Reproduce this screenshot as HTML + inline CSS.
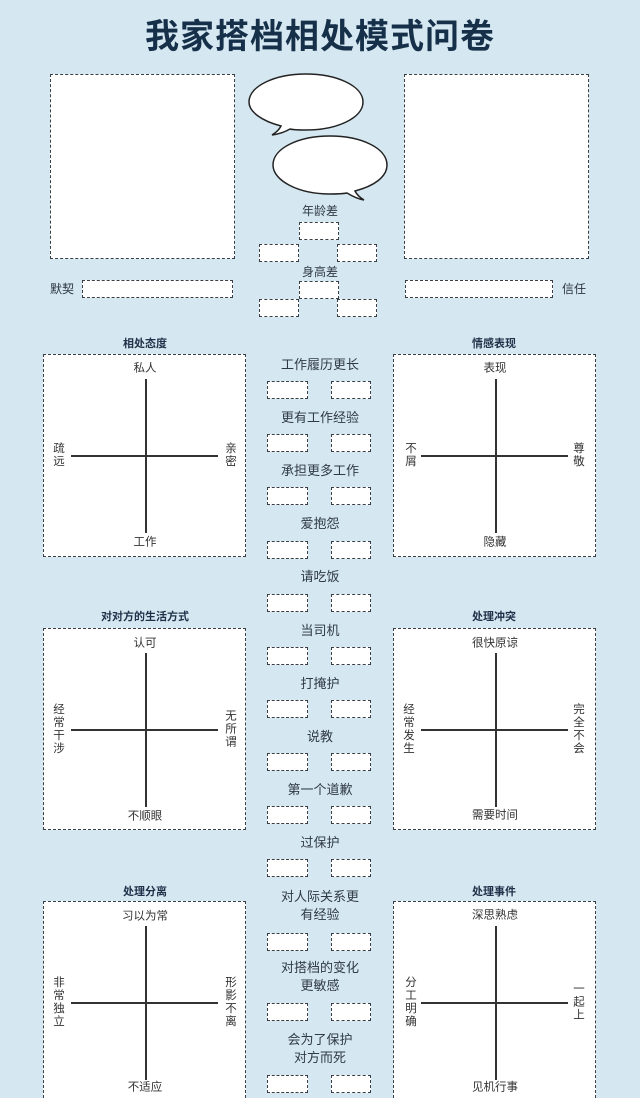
<!DOCTYPE html>
<html style="width:640px;height:1098px;overflow:hidden"><head><meta charset="utf-8"><style>
*{margin:0;padding:0;box-sizing:border-box}
body{width:640px;height:1098px;overflow:hidden;background:#d5e7f1;position:relative;font-family:"Liberation Sans","Noto Sans CJK SC",sans-serif;color:#2a3440}
.a{position:absolute}
.db{position:absolute;border:1.5px dashed #3a3f45;background:#fff}
.t{position:absolute;font-size:13px;text-align:center;white-space:nowrap;transform:translateX(-50%);color:#2f3a44;line-height:18px}
.h{position:absolute;font-size:11px;font-weight:bold;color:#1e3148;transform:translateX(-50%);white-space:nowrap}
.q{position:absolute;border:1.5px dashed #3a3f45;background:#fff;width:203px}
.vl{position:absolute;left:101px;width:1.5px;background:#333;top:24px;height:154px}
.hl{position:absolute;top:100px;height:1.5px;background:#333;left:27px;width:147px}
.ql{position:absolute;font-size:11.5px;color:#333;line-height:13px;text-align:center;transform:translate(-50%,-50%);white-space:nowrap}
.vt{width:13px;white-space:normal}
</style></head><body>
<div class="a" style="left:0;width:640px;top:9px;text-align:center;font-size:34px;font-weight:bold;color:#16304a;letter-spacing:1px">我家搭档相处模式问卷</div>

<div class="db" style="left:50px;top:74px;width:185px;height:185px"></div>
<div class="db" style="left:404px;top:74px;width:185px;height:185px"></div>

<svg class="a" style="left:0;top:0" width="640" height="220">
<path d="M306,74 C337,74 363,86 363,102 C363,118 337,130 306,130 C300,130 294,130 290,129 C285,132 279,134 272,135 C277,132 280,128 281,126 C262,121 249,112 249,102 C249,86 275,74 306,74Z" fill="#fff" stroke="#222" stroke-width="1.5"/>
<path d="M330,136 C299,136 273,148 273,165 C273,181 299,194 330,194 C336,194 342,194 347,193 C352,196 358,199 364,200 C359,197 356,193 355,191 C374,186 387,177 387,165 C387,148 361,136 330,136Z" fill="#fff" stroke="#222" stroke-width="1.5"/>
</svg>

<div class="t" style="left:320px;top:202px;font-size:12px">年龄差</div>
<div class="db" style="left:299px;top:222px;width:40px;height:18px"></div>
<div class="db" style="left:259px;top:244px;width:40px;height:18px"></div>
<div class="db" style="left:337px;top:244px;width:40px;height:18px"></div>
<div class="t" style="left:320px;top:263px;font-size:12px">身高差</div>
<div class="db" style="left:299px;top:281px;width:40px;height:18px"></div>
<div class="db" style="left:259px;top:299px;width:40px;height:18px"></div>
<div class="db" style="left:337px;top:299px;width:40px;height:18px"></div>

<div class="a" style="left:50px;top:280px;font-size:12px">默契</div>
<div class="db" style="left:82px;top:280px;width:151px;height:18px"></div>
<div class="db" style="left:405px;top:280px;width:148px;height:18px"></div>
<div class="a" style="left:562px;top:280px;font-size:12px">信任</div>

<div class="h" style="left:145px;top:335px">相处态度</div>
<div class="q" style="left:43px;top:354px;height:203px"><div class="vl"></div><div class="hl"></div>
<div class="ql" style="left:101px;top:14px">私人</div><div class="ql" style="left:101px;top:188px">工作</div>
<div class="ql vt" style="left:15px;top:101px">疏远</div><div class="ql vt" style="left:187px;top:101px">亲密</div></div>

<div class="h" style="left:494px;top:335px">情感表现</div>
<div class="q" style="left:393px;top:354px;height:203px"><div class="vl"></div><div class="hl"></div>
<div class="ql" style="left:101px;top:14px">表现</div><div class="ql" style="left:101px;top:188px">隐藏</div>
<div class="ql vt" style="left:17px;top:101px">不屑</div><div class="ql vt" style="left:185px;top:101px">尊敬</div></div>

<div class="h" style="left:145px;top:608px">对对方的生活方式</div>
<div class="q" style="left:43px;top:628px;height:202px"><div class="vl"></div><div class="hl"></div>
<div class="ql" style="left:101px;top:15px">认可</div><div class="ql" style="left:101px;top:188px">不顺眼</div>
<div class="ql vt" style="left:15px;top:101px">经常干涉</div><div class="ql vt" style="left:187px;top:101px">无所谓</div></div>

<div class="h" style="left:494px;top:608px">处理冲突</div>
<div class="q" style="left:393px;top:628px;height:202px"><div class="vl"></div><div class="hl"></div>
<div class="ql" style="left:101px;top:15px">很快原谅</div><div class="ql" style="left:101px;top:187px">需要时间</div>
<div class="ql vt" style="left:15px;top:101px">经常发生</div><div class="ql vt" style="left:185px;top:101px">完全不会</div></div>

<div class="h" style="left:145px;top:883px">处理分离</div>
<div class="q" style="left:43px;top:901px;height:197px;border-bottom:none"><div class="vl"></div><div class="hl"></div>
<div class="ql" style="left:101px;top:15px">习以为常</div><div class="ql" style="left:101px;top:186px">不适应</div>
<div class="ql vt" style="left:15px;top:101px">非常独立</div><div class="ql vt" style="left:187px;top:101px">形影不离</div></div>

<div class="h" style="left:494px;top:883px">处理事件</div>
<div class="q" style="left:393px;top:901px;height:197px;border-bottom:none"><div class="vl"></div><div class="hl"></div>
<div class="ql" style="left:101px;top:14px">深思熟虑</div><div class="ql" style="left:101px;top:186px">见机行事</div>
<div class="ql vt" style="left:17px;top:101px">分工明确</div><div class="ql vt" style="left:185px;top:101px">一起上</div></div>

<div class="t" style="left:320px;top:356px">工作履历更长</div>
<div class="t" style="left:320px;top:409px">更有工作经验</div>
<div class="t" style="left:320px;top:462px">承担更多工作</div>
<div class="t" style="left:320px;top:515px">爱抱怨</div>
<div class="t" style="left:320px;top:568px">请吃饭</div>
<div class="t" style="left:320px;top:622px">当司机</div>
<div class="t" style="left:320px;top:675px">打掩护</div>
<div class="t" style="left:320px;top:728px">说教</div>
<div class="t" style="left:320px;top:781px">第一个道歉</div>
<div class="t" style="left:320px;top:834px">过保护</div>
<div class="t" style="left:320px;top:888px">对人际关系更<br>有经验</div>
<div class="t" style="left:320px;top:959px">对搭档的变化<br>更敏感</div>
<div class="t" style="left:320px;top:1031px">会为了保护<br>对方而死</div>

<div class="db" style="left:267px;top:381px;width:41px;height:18px"></div><div class="db" style="left:331px;top:381px;width:40px;height:18px"></div>
<div class="db" style="left:267px;top:434px;width:41px;height:18px"></div><div class="db" style="left:331px;top:434px;width:40px;height:18px"></div>
<div class="db" style="left:267px;top:487px;width:41px;height:18px"></div><div class="db" style="left:331px;top:487px;width:40px;height:18px"></div>
<div class="db" style="left:267px;top:541px;width:41px;height:18px"></div><div class="db" style="left:331px;top:541px;width:40px;height:18px"></div>
<div class="db" style="left:267px;top:594px;width:41px;height:18px"></div><div class="db" style="left:331px;top:594px;width:40px;height:18px"></div>
<div class="db" style="left:267px;top:647px;width:41px;height:18px"></div><div class="db" style="left:331px;top:647px;width:40px;height:18px"></div>
<div class="db" style="left:267px;top:700px;width:41px;height:18px"></div><div class="db" style="left:331px;top:700px;width:40px;height:18px"></div>
<div class="db" style="left:267px;top:753px;width:41px;height:18px"></div><div class="db" style="left:331px;top:753px;width:40px;height:18px"></div>
<div class="db" style="left:267px;top:806px;width:41px;height:18px"></div><div class="db" style="left:331px;top:806px;width:40px;height:18px"></div>
<div class="db" style="left:267px;top:859px;width:41px;height:18px"></div><div class="db" style="left:331px;top:859px;width:40px;height:18px"></div>
<div class="db" style="left:267px;top:933px;width:41px;height:18px"></div><div class="db" style="left:331px;top:933px;width:40px;height:18px"></div>
<div class="db" style="left:267px;top:1003px;width:41px;height:18px"></div><div class="db" style="left:331px;top:1003px;width:40px;height:18px"></div>
<div class="db" style="left:267px;top:1075px;width:41px;height:18px"></div><div class="db" style="left:331px;top:1075px;width:40px;height:18px"></div>
</body></html>
